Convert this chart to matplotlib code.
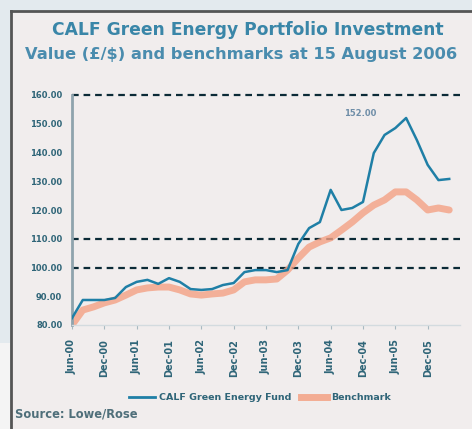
import matplotlib
matplotlib.use("Agg")
import matplotlib.pyplot as plt
from matplotlib.patches import Rectangle
from matplotlib.lines import Line2D

# ---- data ----
months = list(range(0, 71, 2))
fund = [82.4, 88.7, 88.7, 88.7, 89.4, 93.2, 95.0, 95.7, 94.3, 96.3, 95.0, 92.5,
        92.2, 92.5, 93.9, 94.6, 98.4, 99.1, 99.1, 98.4, 99.1, 108.2, 113.7, 115.8,
        127.0, 120.0, 120.7, 122.8, 139.8, 146.1, 148.5, 152.0, 144.3, 135.7, 130.4, 130.8]
benchmark = [80.0, 85.2, 86.3, 87.7, 88.7, 90.4, 92.2, 92.9, 93.2, 93.2, 92.2, 90.8,
             90.4, 90.8, 91.1, 92.2, 95.0, 95.7, 95.7, 96.0, 99.1, 103.3, 107.1, 108.9,
             110.3, 113.0, 115.8, 119.0, 121.7, 123.5, 126.3, 126.3, 123.5, 120.0, 120.7, 120.0]
xtick_pos = list(range(0, 67, 6))
xtick_labels = ["Jun-00", "Dec-00", "Jun-01", "Dec-01", "Jun-02", "Dec-02",
                "Jun-03", "Dec-03", "Jun-04", "Dec-04", "Jun-05", "Dec-05"]
ytick_vals = [80, 90, 100, 110, 120, 130, 140, 150, 160]
ytick_labels = ["80.00", "90.00", "100.00", "110.00", "120.00", "130.00", "140.00", "150.00", "160.00"]
grid_vals = [100, 110, 160]
series_names = ["CALF Green Energy Fund", "Benchmark"]
title_lines = ["CALF Green Energy Portfolio Investment",
               "Value (£/$) and benchmarks at 15 August 2006"]
peak_label = "152.00"
source_text = "Source: Lowe/Rose"

W, H = 472, 429
fig = plt.figure(figsize=(W / 100, H / 100), dpi=100)
fig.patch.set_facecolor("#e3eaee")

# panel
fig.patches.append(Rectangle((11 / W, 0), 1 - 11 / W, 1 - 11 / H, transform=fig.transFigure,
                             facecolor="#f1eded", edgecolor="none", zorder=-5))
fig.patches.append(Rectangle((0, 0), 10 / W, 86 / H, transform=fig.transFigure,
                             facecolor="#f4f4f4", edgecolor="none", zorder=-5))
fig.add_artist(Line2D([11 / W, 11 / W], [0, 1 - 11 / H], color="#555555", lw=2, transform=fig.transFigure))
fig.add_artist(Line2D([11 / W, 1], [1 - 11 / H, 1 - 11 / H], color="#555555", lw=2, transform=fig.transFigure))

blue = "#1f7fa6"
salmon = "#f4a184"
txt = "#2f6578"

ax = fig.add_axes([72 / W, 1 - 325 / H, (460 - 72) / W, (325 - 95) / H])
ax.set_facecolor("none")
ax.set_xlim(0.3, 72)
ax.set_ylim(80, 160)

for g in grid_vals:
    ax.axhline(g, color="#0b2a36", lw=1.6, ls=(0, (3, 2.2)), zorder=1, clip_on=False)

ax.plot(months, benchmark, color=salmon, lw=5, alpha=0.8, solid_capstyle="round", zorder=2)
ax.plot(months, fund, color=blue, lw=1.8, zorder=3)

ax.text(53.5, 153.5, peak_label, color="#6f8ea8", fontsize=6, ha="center", va="center", fontweight="bold")

for s in ["top", "right"]:
    ax.spines[s].set_visible(False)
ax.spines["left"].set_color("#8fa3ad")
ax.spines["left"].set_linewidth(2)
ax.spines["bottom"].set_color("#d3dbdf")
ax.spines["bottom"].set_linewidth(1)

ax.set_yticks(ytick_vals)
ax.set_yticklabels(ytick_labels, fontsize=6, color=txt, fontweight="bold")
ax.tick_params(axis="y", length=0, pad=7)
ax.set_xticks(xtick_pos)
ax.set_xticklabels(xtick_labels, rotation=90, fontsize=7, color=txt, fontweight="bold")
ax.tick_params(axis="x", length=3, color="#a8b8c0", pad=7)

# titles
fig.text(248 / W, 1 - 30 / H, title_lines[0], ha="center", va="center", fontsize=12.3,
         fontweight="bold", color="#3a86a8")
fig.text(25 / W, 1 - 55 / H, title_lines[1], ha="left", va="center", fontsize=11.7,
         fontweight="bold", color="#4a8cae")

handles = [Line2D([], [], color=blue, lw=2), Line2D([], [], color=salmon, lw=5, alpha=0.85)]
fig.legend(handles, series_names, loc="center", bbox_to_anchor=(260 / W, 1 - 398 / H), ncol=2,
           frameon=False, handlelength=2.8, columnspacing=1.0, handletextpad=0.4,
           labelcolor=txt, prop={"weight": "bold", "size": 6.8})

fig.text(15 / W, 1 - 414 / H, source_text, ha="left", va="center", fontsize=8.3,
         fontweight="bold", color="#4f6f7a")

fig.savefig("out.png", dpi=100, facecolor=fig.get_facecolor())
